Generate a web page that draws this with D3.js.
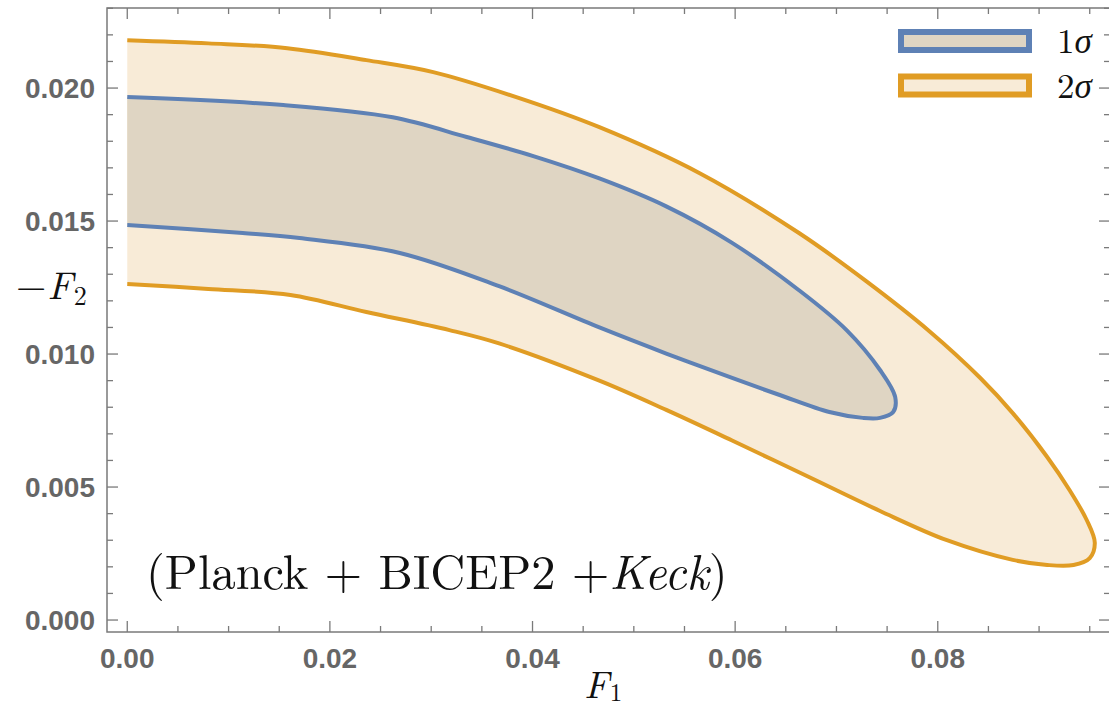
<!DOCTYPE html>
<html>
<head>
<meta charset="utf-8">
<script src="https://cdn.jsdelivr.net/npm/d3@7"></script>
<style>
  body { margin: 0; background: #fff; }
  svg { display: block; }
</style>
</head>
<body>
<div id="contour-plot"></div>
<script>
const w = 1109
const h = 711

// frame edges in pixels
const frameLeft = 107, frameRight = 1110, frameTop = 8, frameBottom = 632

// Axis domains and tick values
const xDomain = [-0.002, 0.097]
const yDomain = [-0.00045, 0.02301]
const xMajorTicks = [0, 0.02, 0.04, 0.06, 0.08]
const yMajorTicks = [0, 0.005, 0.010, 0.015, 0.020]
const xMinorTicks = d3.range(0, 0.0971, 0.005)
const yMinorTicks = d3.range(0, 0.02301, 0.001)

// 2 sigma contour, clockwise from top left
const sigma2F1 = [0, 0.0080, 0.0158, 0.0236, 0.0302, 0.0384, 0.0466, 0.0565, 0.0663, 0.0729, 0.0792,
                  0.0842, 0.0874, 0.0908, 0.0930, 0.0947, 0.0955, 0.0950, 0.0934, 0.0908, 0.0874,
                  0.0809, 0.0743, 0.0677, 0.0597, 0.0532, 0.0466, 0.0367, 0.0318, 0.0236, 0.0161,
                  0.0080, 0]
const sigma2F2 = [0.0218, 0.02168, 0.0215, 0.02105, 0.0206, 0.01966, 0.01853, 0.0168, 0.01455, 0.01275, 0.01085,
                  0.0091, 0.00778, 0.00613, 0.00489, 0.00376, 0.0029, 0.00233, 0.00207, 0.00207, 0.00226,
                  0.0030, 0.0041, 0.0053, 0.00675, 0.0079, 0.0090, 0.0104, 0.0109, 0.01158, 0.01222,
                  0.01245, 0.01263]

// 1 sigma contour
const sigma1F1 = [0, 0.0154, 0.0262, 0.0335, 0.0400, 0.0466, 0.0532, 0.0597, 0.0663, 0.0710, 0.0743,
                  0.0758, 0.0756, 0.0743, 0.0726, 0.0693, 0.0644, 0.0597, 0.0532, 0.0466, 0.0367,
                  0.0269, 0.0170, 0.0114, 0]
const sigma1F2 = [0.01966, 0.01936, 0.0189, 0.01816, 0.01745, 0.0166, 0.01555, 0.01418, 0.0124, 0.0109, 0.0094,
                  0.00838, 0.00782, 0.0076, 0.0076, 0.00782, 0.00846, 0.0091, 0.01002, 0.0110, 0.01255,
                  0.0138, 0.01436, 0.01455, 0.01485]

const legendLabels = ["1", "2"]

const orange = "#e09c24"
const blue = "#5e81b5"
const fill2 = "#f8ebd7"
const fill1 = "#dfd5c3"
const axisGray = "#7a7a7a"
const labelGray = "#666"

const svg = d3.select("#contour-plot")
  .append("svg")
    .attr("width", w)
    .attr("height", h)

const xScale = d3.scaleLinear().domain(xDomain).range([frameLeft, frameRight])
const yScale = d3.scaleLinear().domain(yDomain).range([frameBottom, frameTop])

const line = d3.line()
  .x(d => xScale(d[0]))
  .y(d => yScale(d[1]))
  .curve(d3.curveCatmullRom.alpha(0.5))

const drawContour = (f1, f2, fillColor, strokeColor) => {
  const pts = f1.map((v, i) => [v, f2[i]])
  // filled region closes along F1 = 0
  svg.append("path")
    .attr("d", line(pts) + "Z")
    .attr("fill", fillColor)
  svg.append("path")
    .attr("d", line(pts))
    .attr("fill", "none")
    .attr("stroke", strokeColor)
    .attr("stroke-width", 4)
    .attr("stroke-linejoin", "round")
}

drawContour(sigma2F1, sigma2F2, fill2, orange)
drawContour(sigma1F1, sigma1F2, fill1, blue)

// --- Frame and ticks ---
const frame = svg.append("g").attr("stroke", axisGray).attr("fill", "none")

frame.append("rect")
  .attr("x", frameLeft).attr("y", frameTop)
  .attr("width", frameRight - frameLeft).attr("height", frameBottom - frameTop)
  .attr("stroke-width", 1.5)

const isMajor = (v, list) => list.some(m => Math.abs(m - v) < 1e-9)

xMinorTicks.forEach(v => {
  const len = isMajor(v, xMajorTicks) ? 11 : 6
  const x = xScale(v)
  frame.append("line").attr("x1", x).attr("x2", x).attr("y1", frameBottom).attr("y2", frameBottom - len).attr("stroke-width", 1.3)
  frame.append("line").attr("x1", x).attr("x2", x).attr("y1", frameTop).attr("y2", frameTop + len).attr("stroke-width", 1.3)
})

yMinorTicks.forEach(v => {
  const len = isMajor(v, yMajorTicks) ? 11 : 6
  const y = yScale(v)
  frame.append("line").attr("x1", frameLeft).attr("x2", frameLeft + len).attr("y1", y).attr("y2", y).attr("stroke-width", 1.3)
  frame.append("line").attr("x1", frameRight).attr("x2", frameRight - len).attr("y1", y).attr("y2", y).attr("stroke-width", 1.3)
})

// tick labels
svg.append("g")
  .selectAll("text")
  .data(xMajorTicks)
  .join("text")
    .attr("x", d => xScale(d))
    .attr("y", 668)
    .attr("text-anchor", "middle")
    .attr("font-family", "'Liberation Sans', Arial, sans-serif")
    .attr("font-weight", "bold")
    .attr("font-size", 28)
    .attr("fill", labelGray)
    .text(d3.format(".2f"))

svg.append("g")
  .selectAll("text")
  .data(yMajorTicks)
  .join("text")
    .attr("x", 95)
    .attr("y", d => yScale(d) + 10)
    .attr("text-anchor", "end")
    .attr("font-family", "'Liberation Sans', Arial, sans-serif")
    .attr("font-weight", "bold")
    .attr("font-size", 28)
    .attr("fill", labelGray)
    .text(d3.format(".3f"))

// axis labels
const serif = "'Latin Modern Roman', 'Liberation Serif', 'Times New Roman', serif"

const xLabel = svg.append("text")
  .attr("x", 584).attr("y", 698)
  .attr("font-family", serif)
  .attr("font-size", 38)
  .attr("fill", "#111")
xLabel.append("tspan").attr("font-style", "italic").text("F")
xLabel.append("tspan").attr("font-size", 25).attr("dy", 3).attr("dx", 1).text("1")

const yLabel = svg.append("text")
  .attr("x", 16).attr("y", 299)
  .attr("font-family", serif)
  .attr("font-size", 39)
  .attr("fill", "#111")
yLabel.append("tspan").text("\u2212")
yLabel.append("tspan").attr("font-style", "italic").attr("dx", 1).text("F")
yLabel.append("tspan").attr("font-size", 26).attr("dy", 6).attr("dx", 1).text("2")

// annotation
const note = svg.append("text")
  .attr("x", 146).attr("y", 589)
  .attr("font-family", serif)
  .attr("font-size", 48.5)
  .attr("fill", "#111")
note.append("tspan").text("(Planck + BICEP2 +")
note.append("tspan").attr("font-style", "italic").text("Keck")
note.append("tspan").text(")")

// --- Legend ---
const legend = svg.append("g")
const legendStroke = [blue, orange]
const legendFill = [fill1, fill2]

legendLabels.forEach((lab, i) => {
  const y0 = 29 + i * 44.5
  legend.append("rect")
    .attr("x", 901).attr("y", y0 + 3)
    .attr("width", 128).attr("height", 18)
    .attr("fill", legendFill[i])
    .attr("stroke", legendStroke[i])
    .attr("stroke-width", 6)
  const t = legend.append("text")
    .attr("x", 1057).attr("y", y0 + 24)
    .attr("font-family", serif)
    .attr("font-size", 35)
    .attr("fill", "#111")
  t.append("tspan").text(lab)
  t.append("tspan").attr("font-style", "italic").text("\u03c3")
})
</script>
</body>
</html>
